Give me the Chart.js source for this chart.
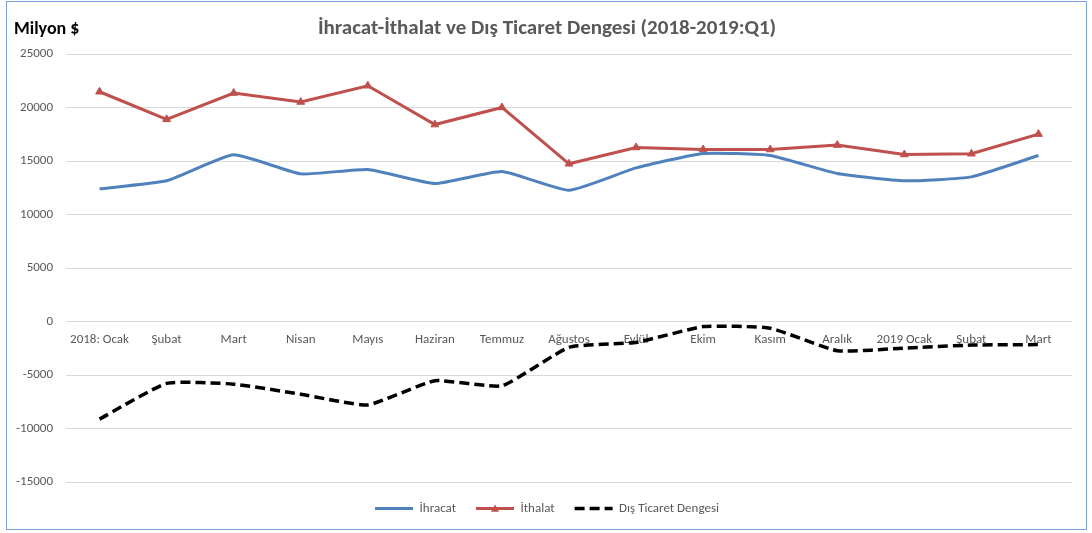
<!DOCTYPE html>
<html>
<head>
<meta charset="utf-8">
<script src="https://cdn.jsdelivr.net/npm/chart.js@4.4.0/dist/chart.umd.min.js"></script>
<style>
    html, body { margin: 0; padding: 0; background: #ffffff; }
    #kutu { position: relative; width: 1092px; height: 533px; }
</style>
</head>
<body>
<div id="kutu"><canvas id="grafik"></canvas></div>
<script>
// Aylar (2018 - 2019:Q1)
const aylar = ["2018: Ocak", "Şubat", "Mart", "Nisan", "Mayıs", "Haziran", "Temmuz", "Ağustos",
    "Eylül", "Ekim", "Kasım", "Aralık", "2019 Ocak", "Şubat", "Mart"];

// Milyon $
const ihracat = [12410, 13160, 15590, 13810, 14220, 12910, 14030, 12280, 14370, 15720, 15530, 13840, 13160, 13530, 15530];
const ithalat = [21490, 18910, 21370, 20530, 22050, 18420, 20020, 14750, 16280, 16090, 16090, 16500, 15620, 15690, 17530];
const denge = [-9120, -5780, -5850, -6790, -7790, -5530, -6000, -2410, -1950, -470, -620, -2730, -2480, -2200, -2150];

const yMin = -15000;
const yMax = 25000;
const yAdim = 5000;

const griYazi = "#595959";
const yaziTipi = "Carlito, Lato, 'Open Sans', sans-serif";

// Dış çerçeve, "Milyon $" etiketi ve lejanddaki üçgen
const cerceve = {
    id: "cerceve",
    afterDraw(chart) {
        const ctx = chart.ctx;
        ctx.save();
        ctx.strokeStyle = "#7ba3d6";
        ctx.lineWidth = 1;
        ctx.strokeRect(6.5, 1.5, 1080, 528);
        ctx.fillStyle = "#000000";
        ctx.font = "bold 18px " + yaziTipi;
        ctx.textBaseline = "middle";
        ctx.fillText("Milyon $", 14, 29);

        const kutular = chart.legend.legendHitBoxes;
        if (kutular && kutular[1]) {
            const k = kutular[1];
            const cx = k.left + 19;
            const cy = k.top + k.height / 2;
            const r = 4;
            ctx.fillStyle = "#c0504d";
            ctx.beginPath();
            ctx.moveTo(cx, cy - r);
            ctx.lineTo(cx + r, cy + r * 0.8);
            ctx.lineTo(cx - r, cy + r * 0.8);
            ctx.closePath();
            ctx.fill();
        }
        ctx.restore();
    }
};

new Chart(document.getElementById("grafik"), {
    type: "line",
    data: {
        labels: aylar,
        datasets: [
            {
                label: "İhracat",
                data: ihracat,
                borderColor: "#4f81bd",
                backgroundColor: "#4f81bd",
                borderWidth: 3,
                pointRadius: 0,
                tension: 0.15
            },
            {
                label: "İthalat",
                data: ithalat,
                borderColor: "#c0504d",
                backgroundColor: "#c0504d",
                borderWidth: 3,
                pointStyle: "triangle",
                pointRadius: 4.5,
                pointBorderWidth: 1,
                tension: 0
            },
            {
                label: "Dış Ticaret Dengesi",
                data: denge,
                borderColor: "#000000",
                backgroundColor: "#000000",
                borderWidth: 3.5,
                borderDash: [10, 5],
                pointRadius: 0,
                tension: 0.15
            }
        ]
    },
    options: {
        responsive: true,
        maintainAspectRatio: false,
        animation: false,
        layout: { padding: { top: 8, left: 6, right: 4, bottom: 8 } },
        plugins: {
            title: {
                display: true,
                text: "İhracat-İthalat ve Dış Ticaret Dengesi (2018-2019:Q1)",
                color: griYazi,
                font: { family: yaziTipi, size: 21, weight: "bold" },
                padding: { top: 8, bottom: 13 }
            },
            legend: {
                position: "bottom",
                labels: {
                    usePointStyle: true,
                    pointStyleWidth: 38,
                    boxWidth: 38,
                    color: griYazi,
                    font: { family: yaziTipi, size: 13 },
                    padding: 20,
                    generateLabels(chart) {
                        const items = Chart.defaults.plugins.legend.labels.generateLabels(chart);
                        items.forEach((it, i) => {
                            const ds = chart.data.datasets[i];
                            it.pointStyle = "line";
                            it.lineWidth = ds.borderWidth;
                            it.lineDash = ds.borderDash || [];
                            it.strokeStyle = ds.borderColor;
                            it.lineCap = "butt";
                        });
                        return items;
                    }
                }
            },
            tooltip: { enabled: false }
        },
        scales: {
            x: {
                offset: true,
                position: { y: 0 },
                grid: { display: false, drawTicks: false },
                border: { display: false },
                ticks: {
                    color: griYazi,
                    font: { family: yaziTipi, size: 13 },
                    padding: 10,
                    maxRotation: 0,
                    autoSkip: false
                },
                afterFit(s) { s.height = 26; }
            },
            y: {
                min: yMin,
                max: yMax,
                border: { display: false },
                grid: { color: "#d9d9d9", drawTicks: false },
                ticks: {
                    stepSize: yAdim,
                    color: griYazi,
                    font: { family: yaziTipi, size: 13 },
                    padding: 13,
                    callback: v => v
                },
                afterFit(s) { s.width = 60; }
            },
            // sağda boş bir eksen: başlığı ortalamak için yer tutar
            bos: {
                position: "right",
                min: yMin,
                max: yMax,
                grid: { display: false },
                border: { display: false },
                ticks: { display: false },
                afterFit(s) { s.width = 16; }
            }
        }
    },
    plugins: [cerceve]
});
</script>
</body>
</html>
